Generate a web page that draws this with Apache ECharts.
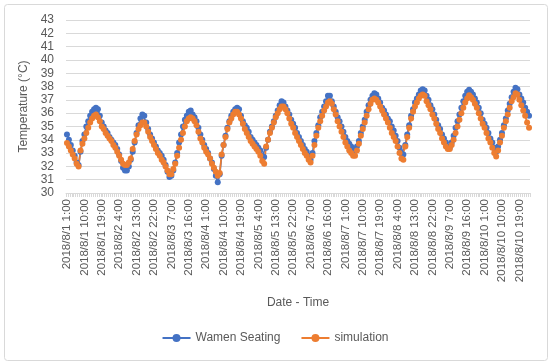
<!DOCTYPE html>
<html>
<head>
<meta charset="utf-8">
<script src="https://cdn.jsdelivr.net/npm/echarts@6/dist/echarts.min.js"></script>
<style>html,body{margin:0;padding:0;background:#fff}#c{width:550px;height:364px}</style>
</head>
<body>
<div id="c"></div>
<script>
// Categories: hourly from 2018/8/1 1:00 to 2018/8/11 0:00
var categories = [];
for (var d = 1; d <= 11; d++) {
  for (var h = 0; h < 24; h++) {
    if (d === 1 && h === 0) continue;
    if (d === 11 && h > 0) break;
    categories.push('2018/8/' + d + ' ' + h + ':00');
  }
}
var yTicks = [30,31,32,33,34,35,36,37,38,39,40,41,42,43];

var wamenSeating = [
34.4,34.0,33.6,33.2,32.8,32.3,32.1,33.1,33.9,34.4,35.0,35.4,35.8,36.1,36.3,36.4,36.3,35.8,35.3,35.0,
34.7,34.5,34.2,34.0,33.8,33.6,33.3,32.9,32.4,31.9,31.7,31.7,32.0,32.5,33.1,33.8,34.5,35.1,35.6,35.9,
35.8,35.3,34.8,34.4,34.1,33.8,33.5,33.2,33.0,32.8,32.5,32.1,31.6,31.2,31.3,31.7,32.3,33.0,33.8,34.4,
35.0,35.5,35.8,36.1,36.2,35.9,35.7,35.4,34.9,34.4,34.0,33.6,33.3,33.0,32.6,32.3,31.8,31.3,30.8,31.4,
32.8,33.6,34.3,34.9,35.4,35.8,36.1,36.3,36.4,36.3,35.8,35.4,35.1,34.9,34.6,34.2,34.0,33.8,33.6,33.4,
33.2,32.8,32.7,33.4,34.0,34.6,35.0,35.4,35.8,36.2,36.6,36.9,36.8,36.5,36.2,35.9,35.5,35.2,34.9,34.5,
34.2,33.9,33.6,33.3,33.1,32.8,32.5,33.0,33.9,34.5,35.1,35.7,36.1,36.5,36.9,37.3,37.3,36.9,36.5,36.1,
35.7,35.4,35.0,34.6,34.2,33.9,33.7,33.5,33.3,33.2,33.5,33.9,34.5,35.0,35.5,36.1,36.6,37.0,37.3,37.5,
37.4,37.1,36.8,36.4,36.2,35.9,35.6,35.4,35.0,34.7,34.3,33.9,33.4,33.0,32.9,33.6,34.4,35.1,35.8,36.3,
36.8,37.1,37.4,37.7,37.8,37.7,37.3,37.0,36.6,36.3,35.9,35.5,35.1,34.8,34.4,34.1,33.8,33.5,33.4,33.8,
34.3,34.9,35.4,35.9,36.4,36.9,37.3,37.6,37.75,37.6,37.4,37.1,36.8,36.4,36.0,35.5,35.2,34.9,34.5,34.1,
33.8,33.4,33.1,33.5,34.0,34.5,35.1,35.6,36.2,36.7,37.2,37.6,37.9,37.8,37.4,37.1,36.8,36.4,36.1,35.8
];
var simulation = [
33.75,33.5,33.2,32.9,32.6,32.2,32.0,33.2,33.7,34.1,34.5,34.9,35.3,35.6,35.8,35.9,35.7,35.4,35.0,34.8,
34.5,34.3,34.1,33.9,33.6,33.4,33.1,32.8,32.5,32.2,32.1,32.1,32.3,32.6,33.3,33.9,34.4,34.8,35.1,35.3,
35.3,35.0,34.6,34.2,33.9,33.6,33.3,33.0,32.8,32.5,32.3,32.0,31.7,31.4,31.4,31.8,32.2,32.8,33.4,34.0,
34.5,35.0,35.4,35.6,35.7,35.6,35.4,35.1,34.6,34.1,33.8,33.4,33.1,32.9,32.6,32.2,31.9,31.6,31.3,31.5,
32.9,33.6,34.2,34.8,35.3,35.6,35.9,36.1,36.1,35.9,35.6,35.2,34.8,34.5,34.2,33.9,33.7,33.5,33.3,33.1,
32.8,32.4,32.2,33.5,34.0,34.5,34.9,35.3,35.7,36.0,36.3,36.5,36.5,36.3,36.0,35.6,35.2,34.9,34.5,34.2,
33.9,33.6,33.3,33.0,32.8,32.5,32.3,32.8,33.6,34.3,34.9,35.4,35.8,36.2,36.5,36.8,36.9,36.7,36.3,35.9,
35.4,35.0,34.6,34.2,33.8,33.5,33.2,33.0,32.8,32.8,33.2,33.7,34.3,34.8,35.3,35.8,36.3,36.7,37.0,37.1,
37.0,36.8,36.5,36.2,35.9,35.6,35.3,34.9,34.5,34.2,33.9,33.5,33.0,32.6,32.5,33.5,34.2,34.9,35.6,36.1,
36.5,36.8,37.1,37.3,37.4,37.3,36.9,36.6,36.3,35.9,35.6,35.2,34.8,34.5,34.1,33.8,33.5,33.3,33.3,33.6,
34.0,34.5,35.0,35.5,36.0,36.4,36.8,37.1,37.35,37.2,37.0,36.7,36.4,36.0,35.6,35.2,34.9,34.5,34.1,33.8,
33.4,33.0,32.75,33.2,33.8,34.3,34.9,35.4,35.9,36.4,36.9,37.2,37.5,37.4,37.0,36.6,36.2,35.8,35.3,34.9
];

var chart = echarts.init(document.getElementById('c'), null, {renderer: 'canvas'});
var font = 'Liberation Sans, Arial, sans-serif';
chart.setOption({
  animation: false,
  backgroundColor: '#fff',
  textStyle: {fontFamily: font},
  graphic: [{
    type: 'rect', left: 2, top: 2,
    shape: {width: 543, height: 356, r: 3},
    style: {fill: 'none', stroke: '#D9D9D9', lineWidth: 1}, z: -10
  }],
  grid: {left: 66, right: 20, top: 20, bottom: 171},
  legend: {
    bottom: 15, left: 'center', itemGap: 20, itemWidth: 28, itemHeight: 10,
    textStyle: {color: '#595959', fontSize: 12, fontFamily: font},
    data: ['Wamen Seating', 'simulation']
  },
  xAxis: {
    type: 'category', data: categories, boundaryGap: true,
    name: 'Date - Time', nameLocation: 'middle', nameGap: 104,
    nameTextStyle: {color: '#595959', fontSize: 12, fontFamily: font},
    axisLine: {lineStyle: {color: '#D9D9D9'}},
    axisTick: {show: true, interval: 0, length: 4, lineStyle: {color: '#D9D9D9'}},
    axisLabel: {interval: 8, rotate: 90, color: '#595959', fontSize: 11.5, margin: 6, fontFamily: font},
    splitLine: {show: false}
  },
  yAxis: {
    type: 'value', min: yTicks[0], max: yTicks[yTicks.length - 1], interval: 1,
    name: 'Temperature (°C)', nameLocation: 'middle', nameGap: 28,
    nameTextStyle: {color: '#595959', fontSize: 12, fontFamily: font},
    axisLine: {show: false}, axisTick: {show: false},
    axisLabel: {color: '#595959', fontSize: 12, margin: 12, fontFamily: font},
    splitLine: {lineStyle: {color: '#D9D9D9', width: 1}}
  },
  series: [{
    name: 'Wamen Seating', type: 'line', data: wamenSeating,
    symbol: 'circle', symbolSize: 6, showAllSymbol: true,
    itemStyle: {color: '#4472C4'}, lineStyle: {color: '#4472C4', width: 1.75}
  }, {
    name: 'simulation', type: 'line', data: simulation,
    symbol: 'circle', symbolSize: 6, showAllSymbol: true,
    itemStyle: {color: '#ED7D31'}, lineStyle: {color: '#ED7D31', width: 1.75}
  }]
});
</script>
</body>
</html>
